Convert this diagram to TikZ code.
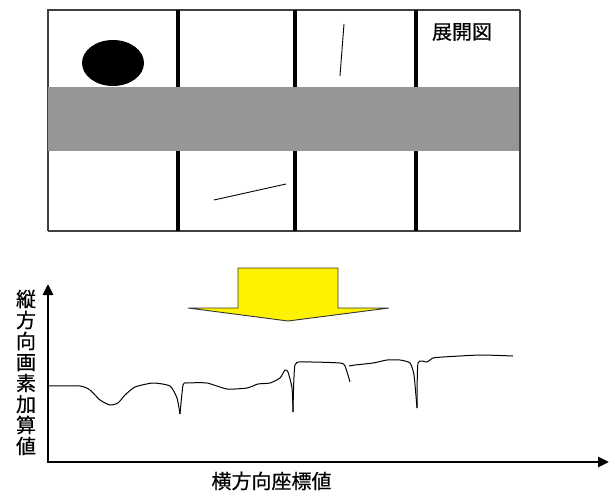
\documentclass[tikz,border=0pt]{standalone}
\usepackage{fontspec}
\newfontfamily\jpfont[FakeBold=0.5]{Noto Sans CJK JP}
\usetikzlibrary{arrows.meta,shapes.geometric}
\begin{document}
\begin{tikzpicture}[x=1pt,y=-1pt,
  frame/.style={draw=black!75,line width=1.4pt},
  divider/.style={line width=3.2pt},
  jtext/.style={font=\jpfont\fontsize{20}{21}\selectfont,inner sep=0pt},
  axis/.style={line width=2.6pt,-{Triangle[length=11pt,width=10pt]}}]
\useasboundingbox (0,0) rectangle (613,493);
% layout frame
\node[frame,minimum width=472pt,minimum height=221pt,inner sep=0pt,anchor=north west] (box) at (47.5,9.5) {};
\node[fill=black,ellipse,minimum width=62pt,minimum height=46pt,inner sep=0pt] (blob) at (113,63) {};
\fill[black!41] (47.5,87) rectangle (519.5,151);
\draw[frame,fill=none] (47.5,9.5) rectangle (519.5,230.5);
\coordinate (d1t) at (178,9.5); \coordinate (d1b) at (178,230.5);
\coordinate (d2t) at (295,9.5); \coordinate (d2b) at (295,230.5);
\coordinate (d3t) at (416,9.5); \coordinate (d3b) at (416,230.5);
\draw[divider] (d1t) -- (178,87) (178,151) -- (d1b);
\draw[divider] (d2t) -- (295,87) (295,151) -- (d2b);
\draw[divider] (d3t) -- (416,87) (416,151) -- (d3b);
\coordinate (s1a) at (344,24); \coordinate (s1b) at (340,76);
\draw[line width=0.9pt] (s1a) -- (s1b);
\coordinate (s2a) at (214,200); \coordinate (s2b) at (286,184);
\draw[line width=0.9pt] (s2a) -- (s2b);
\node[jtext] (title) at (462,32) {展開図};
% block arrow
\draw[fill=yellow,draw=black!80,line width=0.9pt] (238,268) -- (338,268) -- (338,308) -- (389,308) -- (288,321) -- (188,308) -- (238,308) -- cycle;
% axes
\coordinate (o) at (48,462);
\coordinate (ytip) at (48,284);
\coordinate (xtip) at (609,462);
\draw[axis] (o) -- (ytip);
\draw[axis] (46.7,462) -- (xtip);
\node[jtext,align=center] (ylab) at (26,372.5) {縦\\方\\向\\画\\素\\加\\算\\値};
\node[jtext] (xlab) at (271.5,481) {横方向座標値};
% curve
\tikzset{trace/.style={line width=1pt,line join=round}}
\draw[trace] plot[smooth,tension=0.35] coordinates {
(48,386) (80,386) (90,390) (100,400) (110,405) (118,403) (125,395) (135,387) (153,383) (170,386)
(177,398) (180,414)};
\draw[trace] plot[smooth,tension=0.35] coordinates {
(180,414) (183,385) (187,383) (207,383) (227,389) (247,388) (258,384) (270,383) (280,378) (285,370) (288,372) (292,388) (293,412)};
\draw[trace] plot[smooth,tension=0.35] coordinates {
(293,412) (295,365) (307,362) (340,363) (345,366) (350,382)};
\draw[trace] plot[smooth,tension=0.35] coordinates {
(349,366) (355,365) (373,363) (387,360) (400,360) (410,363) (414,375) (417,408)};
\draw[trace] plot[smooth,tension=0.35] coordinates {
(417,408) (418,363) (427,362) (433,358) (443,357) (480,355) (513,356)};
\end{tikzpicture}
\end{document}
